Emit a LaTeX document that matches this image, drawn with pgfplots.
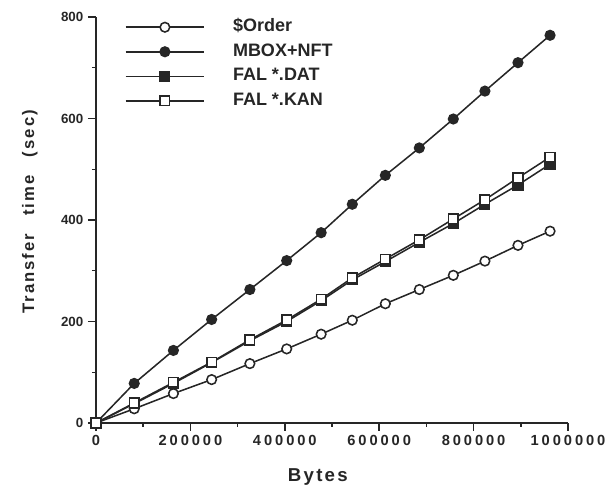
\documentclass[border=0pt]{standalone}
\usepackage{fontspec}
\setmainfont{Liberation Sans}
\newfontfamily\spacedfont[LetterSpace=20]{Liberation Sans}
\newfontfamily\labfont[LetterSpace=12]{Liberation Sans}
\usepackage{pgfplots}
\usepackage{pgfplotstable}
\pgfplotsset{compat=1.18}
\definecolor{ink}{gray}{0.15}

% transfer time (sec) against bytes
\pgfplotstableread{
x y
0 0
81000 28
164000 58
245000 85.5
326000 117
404000 146
477000 175
543000 202.5
613000 235
685000 263
757000 291
824000 319
894000 350
962000 378
}\order
\pgfplotstableread{
x y
0 0
81000 78
164000 143
245000 204
326000 263
404000 320
477000 375
543000 431
613000 488
685000 542
757000 599
824000 654
894000 710
962000 764
}\mbox
\pgfplotstableread{
x y
0 0
81000 38
164000 78
245000 119
326000 162
404000 200
477000 241
543000 282
613000 318
685000 356
757000 393
824000 431
894000 469
962000 510
}\dat
\pgfplotstableread{
x y
0 0
81000 39.5
164000 80
245000 120
326000 164
404000 203
477000 244
543000 286
613000 323
685000 361
757000 402
824000 440
894000 483
962000 524
}\kan

\begin{document}
\begin{tikzpicture}
\begin{axis}[
    scale only axis,
    width=354pt, height=304.5pt,
    xmin=0, xmax=1000000, ymin=0, ymax=800,
    axis x line=bottom, axis y line=left,
    axis line style={-, ink, line width=1.3pt},
    tick align=outside,
    major tick length=6pt, minor tick length=3pt,
    every tick/.style={ink, line width=1.1pt},
    xtick={0,200000,400000,600000,800000,1000000},
    xticklabels={0,200000,400000,600000,800000,1000000},
    scaled x ticks=false,
    ytick={0,200,400,600,800},
    yticklabels={0,200,400,600,800},
    minor tick num=1,
    xticklabel style={font=\spacedfont\bfseries\fontsize{11}{13}\selectfont, text=ink},
    yticklabel style={font=\bfseries\fontsize{10}{12}\selectfont, text=ink},
    xlabel={Bytes},
    xlabel style={font=\labfont\bfseries\fontsize{14}{16}\selectfont, text=ink,
        at={(axis description cs:0.47,-0.145)}, anchor=base},
    ylabel={Transfer\hspace{1.1em}time\hspace{1.1em}(sec)},
    ylabel style={font=\labfont\bfseries\fontsize{12.5}{14}\selectfont, text=ink,
        at={(axis description cs:-0.14,0.52)}, anchor=center},
    clip=false,
    legend cell align=left,
    legend style={draw=none, fill=none, at={(axis description cs:0.052,1.005)},
        anchor=north west, font=\bfseries\fontsize{13.5}{15}\selectfont,
        text=ink, row sep=4.4pt, column sep=20pt,
        nodes={inner sep=1pt, text height=9.5pt, text depth=2.5pt}},
    legend image code/.code={
        \draw[mark repeat=2, mark phase=2, #1]
            plot coordinates {(0pt,0pt) (29.5pt,0pt) (59pt,0pt)};
    },
    every axis plot/.append style={ink, line width=1.15pt,
        mark size=3.6pt, mark options={line width=1.1pt}},
]
\addplot[mark=*, mark options={fill=white}] table[x=x, y=y] {\order};
\addlegendentry{\$Order}
\addplot[mark=*, mark options={fill=ink}] table[x=x, y=y] {\mbox};
\addlegendentry{MBOX+NFT}
\addplot[mark=square*, mark options={fill=ink}] table[x=x, y=y] {\dat};
\addlegendentry{FAL *.DAT}
\addplot[mark=square*, mark options={fill=white}] table[x=x, y=y] {\kan};
\addlegendentry{FAL *.KAN}
\end{axis}
\pgfresetboundingbox
\path[use as bounding box] (-72pt,-51pt) rectangle (386.25pt,317.25pt);
\end{tikzpicture}
\end{document}
